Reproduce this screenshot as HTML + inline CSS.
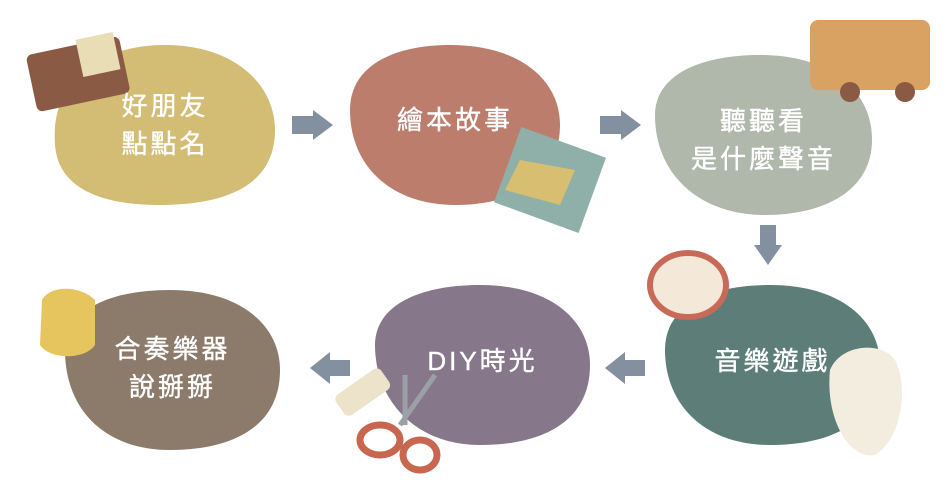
<!DOCTYPE html><html><head><meta charset="utf-8"><style>
body{margin:0;width:950px;height:482px;background:#fff;position:relative;overflow:hidden;font-family:"Liberation Sans","Noto Sans CJK TC",sans-serif}
.b{position:absolute;display:flex;align-items:center;justify-content:center;text-align:center;color:#fff;font-size:26px;letter-spacing:3px;line-height:38px;-webkit-text-stroke:0.4px #fff}
</style></head><body>
<svg width="950" height="482" style="position:absolute;left:0;top:0">
<path d="M55,145 C50,80 100,45 165,45 C235,45 275,85 275,130 C275,180 235,205 160,205 C95,205 58,185 55,145Z" fill="#D3BC74"/>
<path d="M350,110 C350,65 395,45 450,45 C520,45 560,80 560,125 C560,175 520,205 455,205 C390,205 350,165 350,110Z" fill="#BC7D6C"/>
<path d="M655,115 C655,75 700,55 760,55 C830,55 872,90 872,140 C872,190 825,215 765,215 C700,215 655,175 655,115Z" fill="#AFB8AA"/>
<path d="M665,350 C665,305 710,285 770,285 C840,285 880,320 880,365 C880,420 835,445 770,445 C705,445 665,405 665,350Z" fill="#5D7D79"/>
<path d="M375,345 C375,305 420,285 480,285 C550,285 590,320 590,365 C590,420 545,445 480,445 C415,445 375,400 375,345Z" fill="#86788A"/>
<path d="M65,350 C65,310 110,290 170,290 C240,290 280,325 280,370 C280,425 235,450 170,450 C105,450 65,410 65,350Z" fill="#8C7A6B"/>
<g fill="#8290A0">
<path d="M292,116h21v-6l20,15-20,15v-6h-21z"/>
<path d="M600,116h21v-6l20,15-20,15v-6h-21z"/>
<path d="M760,225h16v20h6l-14,20-14-20h6z"/>
<path d="M645,360h-20v-8l-20,16 20,16v-8h20z"/>
<path d="M350,360h-20v-8l-20,16 20,16v-8h20z"/>
</g>
<rect x="30" y="45" width="95" height="58" rx="6" fill="#8B5A44" transform="rotate(-12 78 71)"/>
<rect x="82" y="40" width="38" height="38" fill="#E9DDB5" transform="rotate(-12 78 71)"/>
<rect x="810" y="20" width="120" height="70" rx="8" fill="#D9A263"/>
<circle cx="850" cy="92" r="10" fill="#8B5A44"/><circle cx="905" cy="92" r="10" fill="#8B5A44"/>
<rect x="505" y="140" width="90" height="80" fill="#8FB0A8" transform="rotate(20 550 180)"/>
<path d="M505,190 L560,205 575,170 520,160Z" fill="#D7BE70"/>
<ellipse cx="688" cy="285" rx="38" ry="32" fill="#F4E8D8" stroke="#C86A58" stroke-width="6"/>
<path d="M830,370 C840,345 880,340 895,360 C910,390 900,440 875,455 C850,460 825,420 830,370Z" fill="#F3EDDF"/>
<path d="M42,300 C50,285 80,285 95,300 L95,345 C85,360 50,360 40,345Z" fill="#E6C45E"/>
<rect x="335" y="380" width="55" height="25" rx="6" fill="#EDE3CB" transform="rotate(-35 362 392)"/>
<ellipse cx="380" cy="440" rx="20" ry="15" fill="none" stroke="#C8674F" stroke-width="7"/>
<ellipse cx="420" cy="455" rx="17" ry="15" fill="none" stroke="#C8674F" stroke-width="7"/>
<path d="M400,425 L435,375 M405,425 L405,375" stroke="#9AA0A6" stroke-width="5"/>
</svg>
<div class="b" style="left:55px;top:85px;width:220px;height:80px">好朋友<br>點點名</div>
<div class="b" style="left:350px;top:95px;width:210px;height:50px">繪本故事</div>
<div class="b" style="left:655px;top:100px;width:217px;height:80px">聽聽看<br>是什麼聲音</div>
<div class="b" style="left:665px;top:336px;width:215px;height:50px">音樂遊戲</div>
<div class="b" style="left:375px;top:336px;width:215px;height:50px">DIY時光</div>
<div class="b" style="left:65px;top:328px;width:215px;height:80px">合奏樂器<br>說掰掰</div>
</body></html>
